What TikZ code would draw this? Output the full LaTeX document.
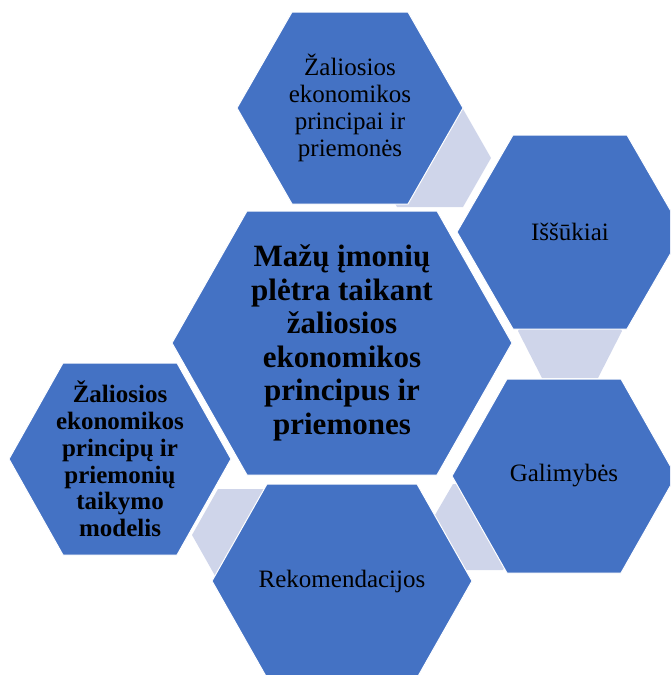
\documentclass[tikz,border=0pt]{standalone}
\usepackage{fontspec}
\setmainfont{Liberation Serif}
\definecolor{hexblue}{HTML}{4472C4}
\definecolor{hexlight}{HTML}{CFD5EA}
% centre x, centre y, half width, half top edge, half height
\newcommand{\hexat}[6][hexfill]{%
  \filldraw[#1] (#2-#4,#3) -- (#2-#5,#3-#6) -- (#2+#5,#3-#6) -- (#2+#4,#3)
    -- (#2+#5,#3+#6) -- (#2-#5,#3+#6) -- cycle;}
\tikzset{
  hexfill/.style={fill=hexblue, draw=white, line width=1pt},
  linkfill/.style={fill=hexlight, draw=none},
  hextext/.style={align=center, text=black, font=\fontsize{25}{27}\selectfont},
  maintext/.style={align=center, text=black, font=\fontsize{31}{33.5}\selectfont\bfseries}
}
\begin{document}
\begin{tikzpicture}[x=1pt,y=-1pt]
  \useasboundingbox (0,0) rectangle (670,675);
  \clip (0,0) rectangle (670,675);
  % links
  \hexat[linkfill]{430}{158}{61}{33}{49}
  \hexat[linkfill]{570}{331}{52}{28}{47}
  \hexat[linkfill]{478}{527}{50}{25}{43}
  \hexat[linkfill]{244}{535}{52}{26}{46}
  % hexagons
  \hexat{350}{108}{113}{58}{96}
  \hexat{570}{232}{113}{57}{97}
  \hexat{342}{343}{170}{95}{132}
  \hexat{564}{476}{112}{57}{97}
  \hexat{342}{581}{130}{75}{97}
  \hexat{120}{459}{111}{57}{96}
  % texts
  \node[hextext] (principai) at (350,108) {Žaliosios\\ekonomikos\\principai ir\\priemonės};
  \node[hextext] (issukiai) at (570,232) {Iššūkiai};
  \node[maintext] (pletra) at (342,343) {Mažų įmonių\\plėtra taikant\\žaliosios\\ekonomikos\\principus ir\\priemones};
  \node[hextext] (galimybes) at (564,476) {Galimybės};
  \node[hextext] (rekomendacijos) at (342,581) {Rekomendacijos};
  \node[hextext, font=\fontsize{25}{26.7}\selectfont\bfseries] (modelis) at (120,459)
    {Žaliosios\\ekonomikos\\principų ir\\priemonių\\taikymo\\modelis};
\end{tikzpicture}
\end{document}
